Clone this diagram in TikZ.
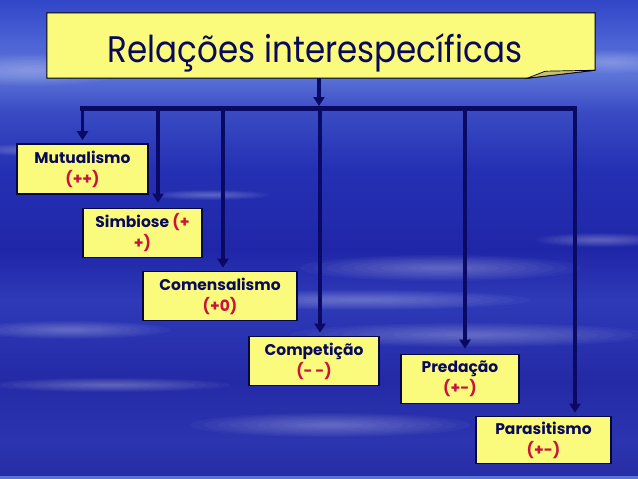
\documentclass[tikz,border=0pt]{standalone}
\usepackage{fontspec}
\setmainfont{Poppins}
\usetikzlibrary{arrows.meta,calc}
\definecolor{boxyellow}{HTML}{FAFA7C}
\definecolor{navy}{HTML}{0A0A5A}
\definecolor{linkblue}{HTML}{0A0A64}
\definecolor{relred}{HTML}{C8143C}
\definecolor{flap}{HTML}{C8C070}
\definecolor{bgA}{HTML}{3246C8}
\definecolor{bgB}{HTML}{4A62D4}
\definecolor{bgC}{HTML}{5C74D8}
\definecolor{bgD}{HTML}{3A4CC4}
\definecolor{bgE}{HTML}{2430B4}
\definecolor{bgF}{HTML}{2026A8}
\definecolor{bgG}{HTML}{2E3AB8}
\definecolor{bgH}{HTML}{242AA6}
\definecolor{bgI}{HTML}{2C34B0}
\definecolor{bgJ}{HTML}{262CA4}
\newcommand\cloudblob[4]{%
  \foreach \k in {0,...,9}{%
    \fill[white,opacity=0.032] (#1,#2) ellipse ({#3*(1-\k/10.5)} and {#4*(1-\k/10.5)});
  }}
\begin{document}
\begin{tikzpicture}[x=1pt,y=-1pt,
  relbox/.style={draw=navy!70!black, line width=1.6pt, fill=boxyellow, inner sep=0pt,
    align=center, text=navy, font=\fontsize{15.5}{21}\selectfont\bfseries},
  link/.style={draw=linkblue, line width=3.5pt, -{Triangle[width=11pt,length=9pt]}, shorten >=3pt}]
% background
\useasboundingbox (0,0) rectangle (638,479);
\fill[top color=bgA, bottom color=bgB] (0,0) rectangle (638,40.5);
\fill[top color=bgB, bottom color=bgC] (0,40) rectangle (638,75.5);
\fill[top color=bgC, bottom color=bgD] (0,75) rectangle (638,110.5);
\fill[top color=bgD, bottom color=bgE] (0,110) rectangle (638,170.5);
\fill[top color=bgE, bottom color=bgF] (0,170) rectangle (638,250.5);
\fill[top color=bgF, bottom color=bgG] (0,250) rectangle (638,300.5);
\fill[top color=bgG, bottom color=bgH] (0,300) rectangle (638,380.5);
\fill[top color=bgH, bottom color=bgI] (0,380) rectangle (638,440.5);
\fill[top color=bgI, bottom color=bgJ] (0,440) rectangle (638,479);
\fill[color=bgC] (0,476) rectangle (638,479);
\cloudblob{30}{70}{95}{16}
\cloudblob{610}{62}{75}{12}
\cloudblob{30}{150}{50}{6}
\cloudblob{210}{195}{60}{5}
\cloudblob{440}{268}{140}{13}
\cloudblob{360}{300}{170}{10}
\cloudblob{70}{330}{100}{9}
\cloudblob{470}{335}{180}{12}
\cloudblob{330}{425}{140}{12}
\cloudblob{110}{385}{120}{7}
\cloudblob{600}{240}{65}{7}
% title
\node[minimum width=548pt, minimum height=65pt, inner sep=0pt] (t) at (321,45.5) {};
\draw[fill=boxyellow, draw=black, line width=1pt]
  (t.north west) -- (t.north east) -- ($(t.south east)+(0,-8)$)
  -- ($(t.south east)+(-68,0)$) -- (t.south west) -- cycle;
\draw[fill=flap, draw=black, line width=0.7pt]
  ($(t.south east)+(-68,0)$) -- ($(t.south east)+(-50,-7)$) -- ($(t.south east)+(0,-8)$) -- cycle;
\node[anchor=base, text=navy, inner sep=0pt, font=\fontsize{37}{40}\selectfont] (tt) at (315,62)
  {\resizebox{414pt}{\height}{Relações interespecíficas}};
% relation boxes
\node[relbox, minimum width=131pt, minimum height=50pt] (mut) at (82.5,169)
  {Mutualismo\\\textcolor{relred}{(++)}};
\node[relbox, minimum width=119pt, minimum height=49pt] (sim) at (142.5,233)
  {Simbiose \textcolor{relred}{(+}\\\textcolor{relred}{+)}};
\node[relbox, minimum width=154pt, minimum height=49pt] (com) at (220,296)
  {Comensalismo\\\textcolor{relred}{(+0)}};
\node[relbox, minimum width=130pt, minimum height=49pt] (cpt) at (314,361)
  {Competição\\\textcolor{relred}{(-\,-)}};
\node[relbox, minimum width=118pt, minimum height=49pt] (pre) at (460,379)
  {Predação\\\textcolor{relred}{(+-)}};
\node[relbox, minimum width=135pt, minimum height=47pt] (par) at (543.5,440)
  {Parasitismo\\\textcolor{relred}{(+-)}};
% bar and connectors
\coordinate (jt) at (319,106);
\coordinate (bl) at (80,108.5);
\coordinate (br) at (577,108.5);
\coordinate (j1) at (82.5,106);
\coordinate (j2) at (158,106);
\coordinate (j3) at (223,106);
\coordinate (j4) at (320,106);
\coordinate (j5) at (465,106);
\coordinate (j6) at (575,106);
\draw[linkblue, line width=5pt] (bl) -- (br);
\draw[link, shorten >=0pt] (jt |- t.south) -- (jt);
\draw[link] (j1) -- (j1 |- mut.north);
\draw[link, shorten >=5pt] (j2) -- (j2 |- sim.north);
\draw[link] (j3) -- (j3 |- com.north);
\draw[link] (j4) -- (j4 |- cpt.north);
\draw[link, shorten >=5pt] (j5) -- (j5 |- pre.north);
\draw[link] (j6) -- (j6 |- par.north);
\end{tikzpicture}
\end{document}
